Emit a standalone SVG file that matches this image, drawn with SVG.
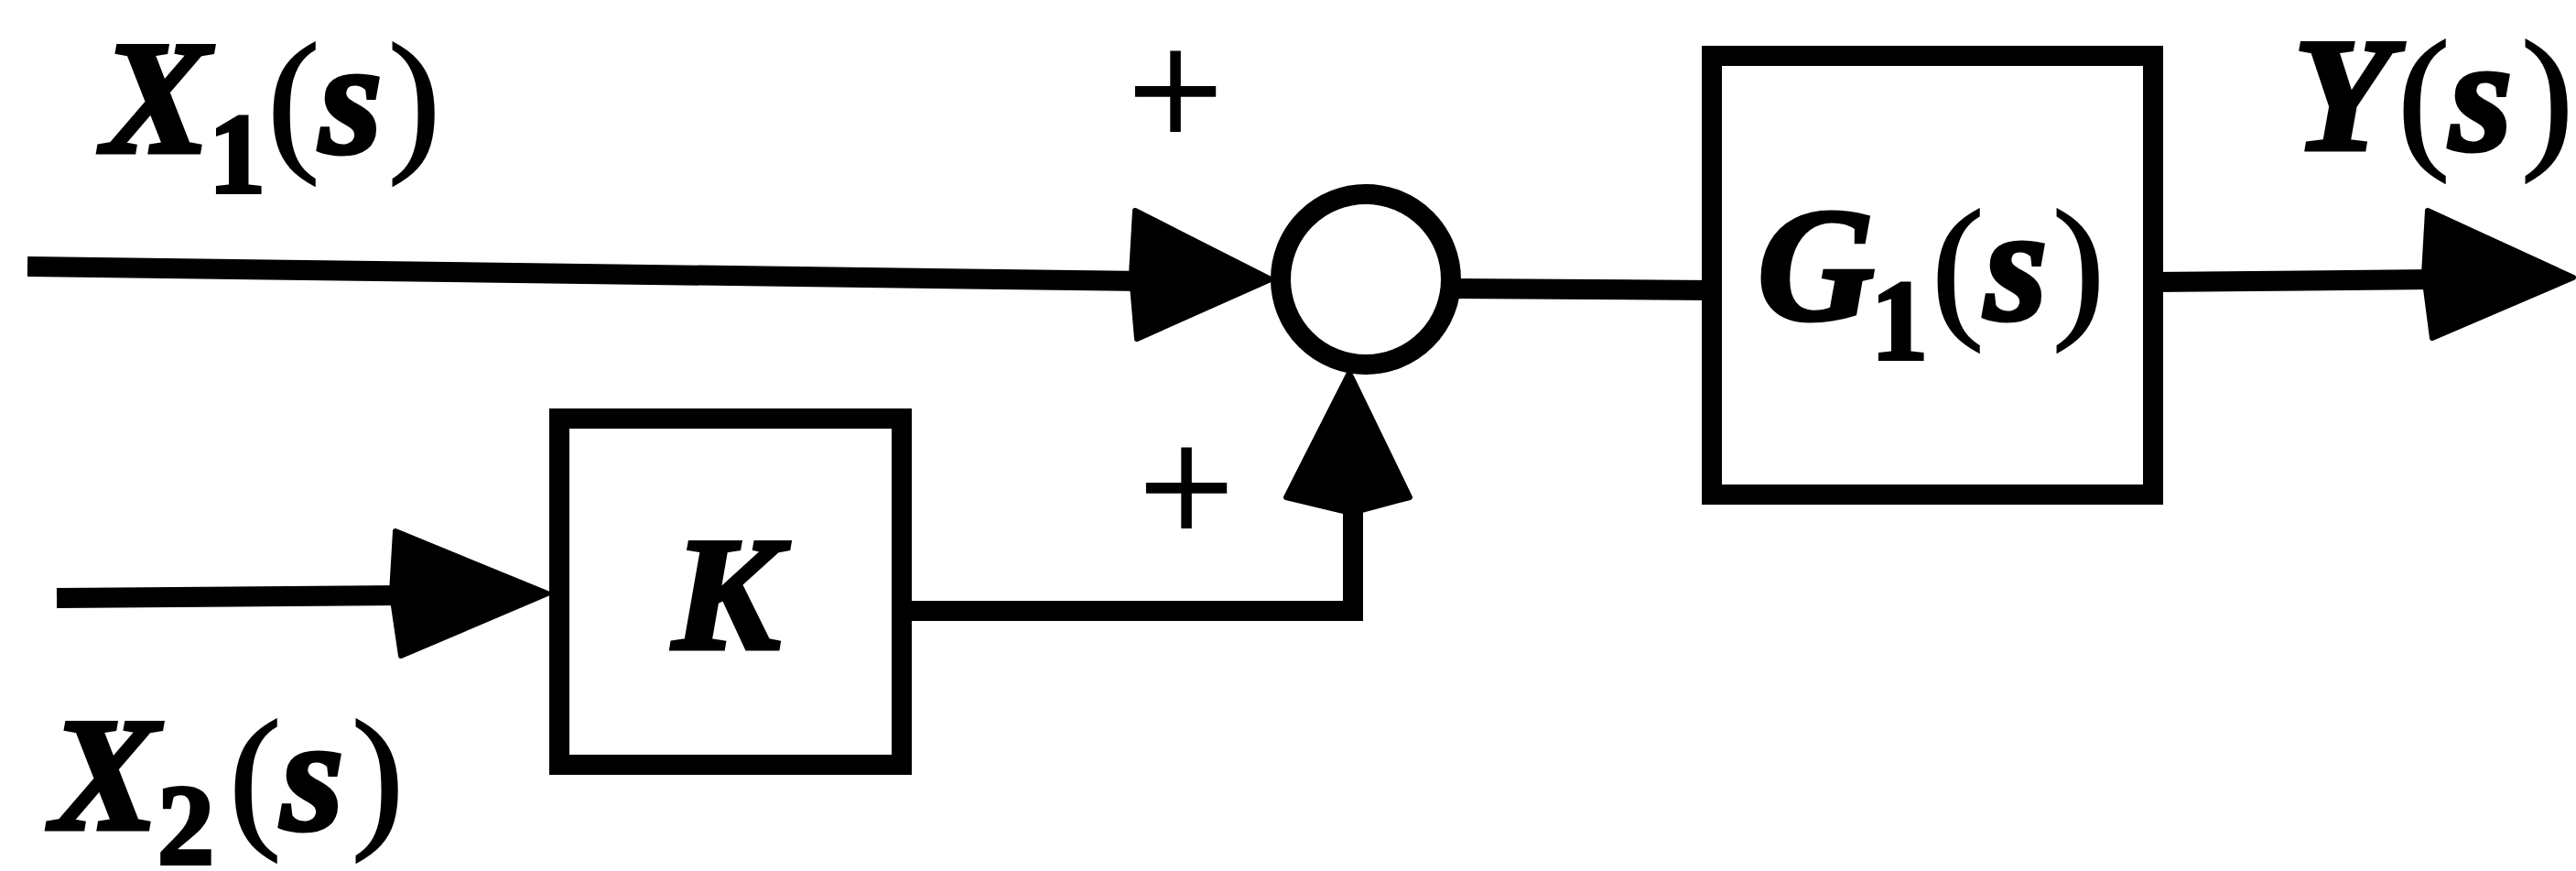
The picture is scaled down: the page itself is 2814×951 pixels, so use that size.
<svg xmlns="http://www.w3.org/2000/svg" width="2814" height="951" viewBox="0 0 2814 951">
<style>
.ln{fill:none;stroke:#000;stroke-width:22;stroke-linecap:butt;stroke-linejoin:miter}
.box{fill:#fff;stroke:#000;stroke-width:22}
.ah{fill:#000;stroke:#000;stroke-width:6;stroke-linejoin:round}
.t{font-family:"Liberation Serif","Times New Roman",serif;fill:#000;stroke:#000}
.it{font-style:italic;font-weight:bold;font-size:176px;stroke-width:5}
.up{font-style:normal;font-weight:normal;font-size:172px;stroke-width:2}
.sub{font-style:normal;font-weight:bold;font-size:124px;stroke-width:4}
.pl{font-family:"DejaVu Sans",sans-serif;font-size:141px;text-anchor:middle;fill:#000}
</style>
<rect width="2814" height="951" fill="#fff"/>
<g id="connectors">
<path class="ln" d="M30 291 L1250 307"/>
<polygon class="ah" points="1240,230 1388,305 1242,370 1236,300"/>
<path class="ln" d="M1583 315 L1872 317"/>
<path class="ln" d="M2352 308 L2660 305"/>
<polygon class="ah" points="2652,230 2811,303 2657,369 2648,300"/>
<path class="ln" d="M62 653 L440 650"/>
<polygon class="ah" points="432,580 598,648 438,716 428,648"/>
<path class="ln" d="M985 667 L1478 667 L1478 550"/>
<polygon class="ah" points="1405,543 1474,407 1540,543 1476,560"/>
</g>
<g id="sum">
<circle cx="1492" cy="305" r="93" fill="#fff" stroke="#000" stroke-width="22"/>
</g>
<g id="sign-top"><text class="pl" x="1284" y="144">+</text></g>
<g id="sign-bottom"><text class="pl" x="1296" y="577">+</text></g>
<g id="block-G1">
<rect class="box" x="1870" y="61" width="482" height="479"/>
<text class="t"><tspan class="it" x="1920" y="348">G</tspan><tspan class="sub" x="2044" y="392">1</tspan><tspan class="up" x="2110" y="348">(</tspan><tspan class="it" x="2168" y="348">s</tspan><tspan class="up" x="2242" y="348">)</tspan></text>
</g>
<g id="block-K">
<rect class="box" x="611" y="457" width="374" height="378"/>
<text class="t"><tspan class="it" x="735" y="708">K</tspan></text>
</g>
<g id="label-X1">
<text class="t"><tspan class="it" x="112" y="166">X</tspan><tspan class="sub" x="228" y="210">1</tspan><tspan class="up" x="292" y="166">(</tspan><tspan class="it" x="349" y="166">s</tspan><tspan class="up" x="424" y="166">)</tspan></text>
</g>
<g id="label-X2">
<text class="t"><tspan class="it" x="56" y="905">X</tspan><tspan class="sub" x="172" y="943">2</tspan><tspan class="up" x="250" y="905">(</tspan><tspan class="it" x="307" y="905">s</tspan><tspan class="up" x="384" y="905">)</tspan></text>
</g>
<g id="label-Y">
<text class="t"><tspan class="it" x="2505" y="163">Y</tspan><tspan class="up" x="2619" y="163">(</tspan><tspan class="it" x="2676" y="163">s</tspan><tspan class="up" x="2754" y="163">)</tspan></text>
</g>
</svg>
